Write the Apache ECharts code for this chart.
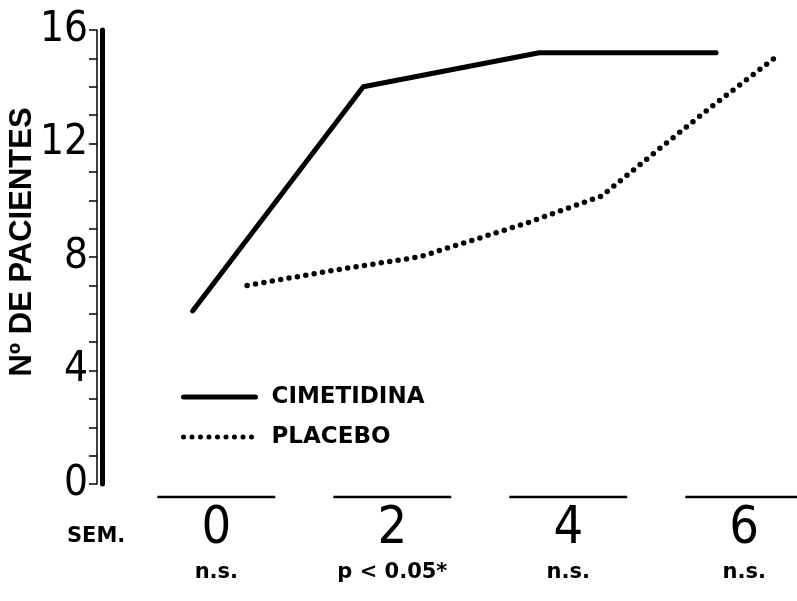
<!DOCTYPE html>
<html>
<head>
<meta charset="utf-8">
<script src="https://cdn.jsdelivr.net/npm/echarts@6/dist/echarts.min.js"></script>
<style>
  html, body { margin: 0; padding: 0; background: #fff; }
  #chart { width: 797px; height: 601px; }
</style>
</head>
<body>
<div id="chart"></div>
<script>
// semanas (eje x) y nº de pacientes
const weekTicks = [0, 2, 4, 6];
const weekNotes = ["n.s.", "p < 0.05*", "n.s.", "n.s."];
const yTicks = [0, 4, 8, 12, 16];

const cimWeeks = [-0.27, 1.67, 3.67, 5.68];
const cimValues = [6.1, 14.0, 15.2, 15.2];

const plaWeeks = [0.35, 1.37, 2.3, 2.77, 3.53, 4.38, 5.03, 5.63, 6.34];
const plaValues = [7.0, 7.55, 8.0, 8.45, 9.2, 10.15, 11.8, 13.3, 15.0];

const chart = echarts.init(document.getElementById("chart"));

const zip = (xs, ys) => xs.map((x, i) => [x, ys[i]]);

const option = {
  backgroundColor: "#fff",
  animation: false,
  grid: { left: 102, right: 0, top: 30, bottom: 117, outerBoundsMode: "none", containLabel: false },
  legend: {
    orient: "vertical",
    left: 176,
    top: 380,
    itemWidth: 72,
    itemHeight: 14,
    itemGap: 16,
    data: ["CIMETIDINA", "PLACEBO"],
    itemStyle: { opacity: 0 },
    lineStyle: { width: 5 },
    textStyle: {
      fontFamily: "DejaVu Sans",
      fontWeight: "bold",
      fontSize: 23,
      lineHeight: 24,
      color: "#000",
      padding: [0, 0, 0, 11]
    }
  },
  graphic: [
    {
      type: "text",
      left: 67,
      top: 526,
      style: {
        text: "SEM.",
        fontFamily: "DejaVu Sans",
        fontWeight: "bold",
        fontSize: 21,
        fill: "#000"
      }
    }
  ],
  xAxis: {
    type: "value",
    min: -1.3,
    max: 6.6,
    axisLine: { show: false },
    axisTick: { show: false },
    splitLine: { show: false },
    axisLabel: {
      customValues: weekTicks,
      margin: 20,
      formatter: (v) => {
        const i = weekTicks.indexOf(v);
        return "{n|" + v + "}\n{s|" + weekNotes[i] + "}";
      },
      rich: {
        n: {
          fontFamily: "Liberation Sans Narrow, DejaVu Sans Condensed",
          fontSize: 52,
          lineHeight: 50,
          color: "#000"
        },
        s: {
          fontFamily: "DejaVu Sans",
          fontWeight: "bold",
          fontSize: 21,
          lineHeight: 38,
          color: "#000"
        }
      }
    }
  },
  yAxis: [
    {
      type: "value",
      min: 0,
      max: 16,
      interval: 4,
      axisLine: { show: true, onZero: false, lineStyle: { color: "#000", width: 5 } },
      axisTick: { show: false },
      axisLabel: { show: false },
      splitLine: { show: false }
    },
    {
      type: "value",
      position: "left",
      offset: 5,
      min: 0,
      max: 16,
      interval: 4,
      name: "Nº DE PACIENTES",
      nameLocation: "middle",
      nameGap: 59,
      nameMoveOverlap: false,
      nameTextStyle: {
        fontFamily: "Liberation Sans",
        fontWeight: "bold",
        fontSize: 31,
        color: "#000",
        padding: [0, 0, 0, 30]
      },
      axisLine: { show: true, onZero: false, lineStyle: { color: "#000", width: 1.5 } },
      axisTick: { show: true, length: 8, lineStyle: { color: "#000", width: 1.5 } },
      minorTick: { show: true, splitNumber: 4, length: 8, lineStyle: { color: "#000", width: 1.5 } },
      axisLabel: {
        margin: 9,
        fontFamily: "Liberation Sans Narrow, DejaVu Sans Condensed",
        fontSize: 42,
        color: "#000",
        formatter: (v) => (yTicks.includes(v) ? String(v) : "")
      },
      splitLine: { show: false }
    }
  ],
  series: [
    {
      name: "CIMETIDINA",
      type: "line",
      yAxisIndex: 0,
      symbol: "none",
      data: zip(cimWeeks, cimValues),
      lineStyle: { color: "#000", width: 5, cap: "round", join: "round" },
      itemStyle: { color: "#000" }
    },
    {
      name: "PLACEBO",
      type: "line",
      yAxisIndex: 0,
      symbol: "none",
      data: zip(plaWeeks, plaValues),
      lineStyle: { color: "#000", width: 5.5, type: [0, 8.5], cap: "round" },
      itemStyle: { color: "#000" }
    },
    {
      // trazos horizontales bajo cada semana
      type: "custom",
      yAxisIndex: 0,
      clip: false,
      silent: true,
      data: weekTicks.map((w) => [w, 0]),
      renderItem: (params, api) => {
        const w = api.value(0);
        const a = api.coord([w - 0.67, 0]);
        const b = api.coord([w + 0.67, 0]);
        return {
          type: "line",
          shape: { x1: a[0], y1: a[1] + 13, x2: b[0], y2: b[1] + 13 },
          style: { stroke: "#000", lineWidth: 2.5 }
        };
      }
    }
  ]
};

chart.setOption(option);
</script>
</body>
</html>
